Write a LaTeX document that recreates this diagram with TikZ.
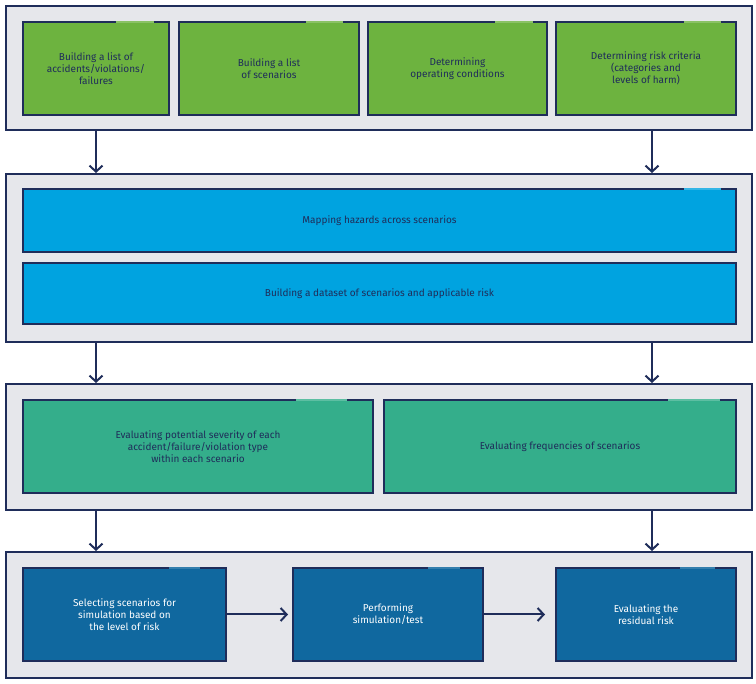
\documentclass[tikz,border=0pt]{standalone}
\usepackage{fontspec}
\setmainfont{Fira Sans}
\usetikzlibrary{arrows.meta}
\definecolor{navy}{HTML}{1F2D5A}
\definecolor{panel}{HTML}{E6E7EB}
\definecolor{cgreen}{HTML}{6DB33F}
\definecolor{cblue}{HTML}{00A3E0}
\definecolor{cteal}{HTML}{34AE8B}
\definecolor{cdark}{HTML}{10689F}
\begin{document}
\begin{tikzpicture}[x=1pt,y=-1pt,
  pan/.style={draw=navy,fill=panel,line width=2pt},
  box/.style={draw=navy,line width=2.5pt},
  txt/.style={font=\fontsize{10}{12}\selectfont,text=navy,align=center},
  wtxt/.style={font=\fontsize{10}{12}\selectfont,text=white,align=center},
  arr/.style={draw=navy,line width=2pt,-{Straight Barb[length=6pt,width=13pt,line width=2pt]}}]
\useasboundingbox (0,0) rectangle (756,684);
\newcommand{\bx}[7]{% name, x1,y1,x2,y2,color, gapx1-gapx2 as #7 pair
  \draw[box,fill=#6] (#2,#3) rectangle (#4,#5);
  \coordinate (#1) at ({(#2+#4)/2},{(#3+#5)/2});
  \coordinate (#1-r) at (#4,{(#3+#5)/2});
  \coordinate (#1-l) at (#2,{(#3+#5)/2});
}
\newcommand{\gap}[4]{\draw[#4,line width=2.6pt] (#1,#3) -- (#2,#3);}
% panels
\draw[pan] (6,6) rectangle (752,130);
\draw[pan] (6,174) rectangle (752,342);
\draw[pan] (6,384) rectangle (752,510);
\draw[pan] (6,552) rectangle (752,678);
\coordinate (p1bl) at (96,131); \coordinate (p1br) at (652,131);
\coordinate (p2tl) at (96,173); \coordinate (p2tr) at (652,173);
\coordinate (p2bl) at (96,343); \coordinate (p2br) at (652,343);
\coordinate (p3tl) at (96,383); \coordinate (p3tr) at (652,383);
\coordinate (p3bl) at (96,511); \coordinate (p3br) at (652,511);
\coordinate (p4tl) at (96,551); \coordinate (p4tr) at (652,551);
% row 1
\bx{b1}{23}{22}{169}{115}{cgreen}{}
\bx{b2}{179}{22}{359}{115}{cgreen}{}
\bx{b3}{368}{22}{547}{115}{cgreen}{}
\bx{b4}{556}{22}{736}{115}{cgreen}{}
\gap{116}{154}{22}{cgreen!80!white}\gap{306}{343}{22}{cgreen!80!white}
\gap{495}{533}{22}{cgreen!80!white}\gap{684}{721}{22}{cgreen!80!white}
\node[txt] at (b1) {Building a list of\\accidents/violations/\\failures};
\node[txt] at (b2) {Building a list\\of scenarios};
\node[txt] at (b3) {Determining\\operating conditions};
\node[txt] at (b4) {Determining risk criteria\\(categories and\\levels of harm)};
% row 2
\bx{a1}{23}{189}{736}{252}{cblue}{}
\bx{a2}{23}{263}{736}{324}{cblue}{}
\gap{684}{721}{189}{cblue!80!white}
\node[txt] at (a1) {Mapping hazards across scenarios};
\node[txt] at (a2) {Building a dataset of scenarios and applicable risk};
% row 3
\bx{c1}{23}{400}{373}{493}{cteal}{}
\bx{c2}{384}{400}{736}{493}{cteal}{}
\gap{296}{347}{400}{cteal!80!white}\gap{668}{720}{400}{cteal!80!white}
\node[txt] at (c1) {Evaluating potential severity of each\\accident/failure/violation type\\within each scenario};
\node[txt] at (c2) {Evaluating frequencies of scenarios};
% row 4
\bx{d1}{23}{568}{226}{661}{cdark}{}
\bx{d2}{293}{568}{483}{661}{cdark}{}
\bx{d3}{556}{568}{736}{661}{cdark}{}
\gap{169}{200}{568}{cdark!85!white}\gap{428}{460}{568}{cdark!85!white}\gap{680}{715}{568}{cdark!85!white}
\node[wtxt] at (d1) {Selecting scenarios for\\simulation based on\\the level of risk};
\node[wtxt] at (d2) {Performing\\simulation/test};
\node[wtxt] at (d3) {Evaluating the\\residual risk};
% arrows
\draw[arr] (p1bl) -- (p2tl); \draw[arr] (p1br) -- (p2tr);
\draw[arr] (p2bl) -- (p3tl); \draw[arr] (p2br) -- (p3tr);
\draw[arr] (p3bl) -- (p4tl); \draw[arr] (p3br) -- (p4tr);
\draw[arr] (d1-r) -- ([xshift=-5pt]d2-l);
\draw[arr] (d2-r) -- ([xshift=-11pt]d3-l);
\end{tikzpicture}
\end{document}
